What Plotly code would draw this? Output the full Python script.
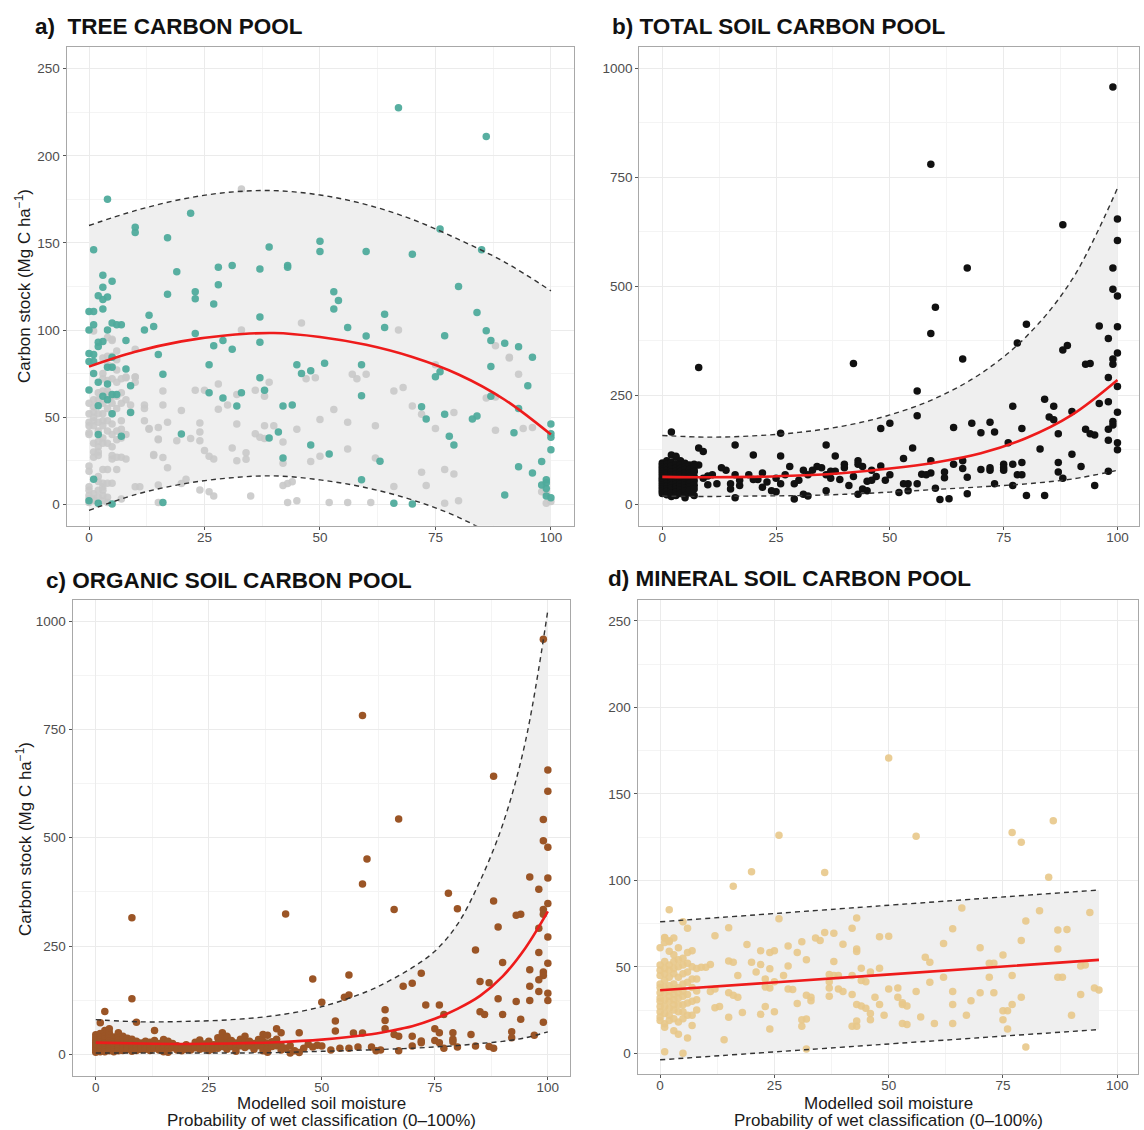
import plotly.graph_objects as go

W, H = 1144, 1130

# ----------------------------- DATA -----------------------------
moist_grid = [0, 10, 20, 30, 40, 50, 60, 70, 80, 90, 100]

# a) tree carbon pool: fit and prediction band
tree_fit = [79, 87.5, 93.5, 97, 98.3, 96, 91.5, 84.5, 74.5, 60, 40]
tree_upper = [160, 168.5, 175, 179, 180, 177.5, 172, 163.5, 152, 139, 122.5]
tree_lower = [-3.5, 5.5, 11.5, 15, 16.3, 14, 9.5, 2.5, -7.5, -22, -42]

tree_wet = [(67, 227.5), (86, 211), (4, 175), (22, 167), (10, 159), (10, 156), (17, 153), (1, 146),
            (50, 151), (50, 145), (60, 145), (76, 158), (85, 146), (39, 147.6), (70, 143.5),
            (19, 133.5), (31, 137), (28, 136), (37, 135), (43, 137), (43, 136), (3, 131.5),
            (5, 128), (28, 126), (80, 125), (3, 124.5), (23, 122), (23, 118), (53, 122),
            (53, 112), (54, 117), (17, 120.6), (2, 119.6), (4, 119), (3, 117.5), (27, 115),
            (3, 112), (13, 108.5), (64, 109), (84, 110), (37, 107.5), (0, 110.6), (1, 110.6),
            (5, 104), (6, 103), (7, 103), (1, 103), (12, 100), (14, 102), (0, 100), (4, 100),
            (23, 98), (86, 99.6), (56, 101.5), (64, 101.5), (60, 96.5), (37, 93), (29, 94),
            (77, 96.7), (87, 94), (90, 92.4), (93, 90.4), (3, 93.4), (2, 90.5), (2, 93),
            (8, 94), (27, 91), (31, 89), (0, 86.5), (1, 86), (15, 86), (5, 84.4), (96, 84.4),
            (0, 82), (1, 82), (26, 80), (45, 80), (59, 80), (51, 81), (87, 79), (4, 78.7),
            (5, 78.7), (8, 77.7), (46, 75), (48, 76.6), (16, 74.6), (1, 75), (37, 72.6),
            (75, 73.2), (76, 76), (9, 68), (95, 68), (2, 70), (4, 69), (0, 65.6), (38, 65.4),
            (26, 64), (33, 64), (87, 62), (5, 63), (6, 63), (59, 62.3), (29, 61), (3, 62),
            (4, 60), (32, 56.4), (72, 56), (2, 56.6), (42, 56.4), (44, 57), (93, 55),
            (9, 52.7), (77, 51.7), (84, 50.7), (83, 49), (73, 49), (5, 52), (100, 46),
            (100, 40.5), (100, 38.5), (41, 41.5), (92, 41), (20, 40.3), (7, 39), (2, 40),
            (78, 39), (39, 38), (48, 34), (79, 34), (100, 31.3), (52, 28.8), (42, 26.6),
            (63, 24.7), (98, 24.5), (93, 21.5), (96, 18), (59, 14), (1, 14.3), (99, 14),
            (99, 12.3), (98, 11), (99, 9), (90, 5.3), (99, 4.7), (100, 3.7), (16, 1),
            (5, 0.2), (0, 2), (2, 0.6), (66, 0.6), (70, 0.2)]

tree_dry = [(33, 181), (46, 104), (67, 100), (33, 100), (4, 95.7), (5, 94.7), (1, 99.5),
            (88, 91), (91, 84.4), (57, 74.6), (58, 72), (75, 80), (49, 72.6), (47, 72),
            (68, 67), (39, 70), (28, 69), (23, 65.4), (25, 65.4), (36, 65.4), (16, 65),
            (66, 65), (38, 62), (32, 63), (8, 72.6), (10, 73), (53, 54.4), (70, 56.4),
            (30, 57), (28, 54.6), (72, 51.7), (79, 52.7), (20, 53.8), (94, 43.5), (75, 43.5),
            (45, 43), (56, 47), (50, 48.7), (62, 45), (88, 42.5), (40, 45), (38, 45),
            (32, 46), (24, 46.6), (24, 41.5), (22, 37.8), (24, 36.4), (36, 40.5), (37, 38.4),
            (38, 37.8), (19, 36.4), (13, 43.5), (15, 44), (15, 37.4), (42, 35.8), (31, 32.3),
            (25, 30.9), (34, 29.6), (27, 26), (26, 27.6), (32, 25), (34, 25.8), (16, 26.8),
            (14, 28.6), (48, 24.5), (42, 23.5), (50, 27.6), (56, 31.7), (62, 26.6), (77, 20),
            (79, 17.4), (72, 18.4), (73, 10.8), (17, 21), (20, 11.9), (21, 14.3), (24, 8.2),
            (26, 7.2), (27, 4.7), (35, 4.7), (42, 10.8), (43, 11.9), (44, 12.9), (43, 1),
            (45, 2), (52, 1), (56, 1), (61, 1), (66, 10.2), (77, 0.6), (80, 2), (98, 7.2),
            (99, 6.3), (100, 1.6), (99, 0.6), (96, 44), (93, 74.6), (86, 61), (88, 61.5),
            (91, 84), (60, 74.6),
            (0, 58), (0, 52), (0, 47), (0, 45), (0, 41), (0, 40), (0, 22), (0, 19), (0, 10),
            (0, 8), (0, 5), (0, 3), (0, 1),
            (1, 60), (1, 56), (1, 53), (1, 50), (1, 48), (1, 45), (1, 35), (1, 30), (1, 27),
            (1, 6), (1, 3), (1, 2),
            (2, 64), (2, 60), (2, 52), (2, 47), (2, 42), (2, 36), (2, 33), (2, 30), (2, 28),
            (2, 16), (2, 13), (2, 8), (2, 4),
            (3, 84), (3, 75), (3, 72), (3, 65), (3, 58), (3, 52), (3, 48), (3, 45), (3, 38),
            (3, 35), (3, 20), (3, 12), (3, 10), (3, 8), (3, 5), (3, 2),
            (4, 85), (4, 80), (4, 71), (4, 65), (4, 63), (4, 55), (4, 48), (4, 42), (4, 35),
            (4, 20), (4, 12), (4, 4), (4, 1),
            (5, 94), (5, 85), (5, 79), (5, 72), (5, 62), (5, 58), (5, 52), (5, 46), (5, 40),
            (5, 33), (5, 28), (5, 26), (5, 12),
            (6, 88), (6, 83), (6, 77), (6, 70), (6, 62), (6, 55), (6, 42), (6, 37), (6, 27),
            (6, 20),
            (7, 72), (7, 64), (7, 58), (7, 48), (7, 43), (7, 38), (7, 27), (7, 3),
            (8, 73), (8, 60), (8, 40), (8, 26), (9, 57), (9, 53), (10, 89), (10, 73), (10, 70),
            (10, 10), (11, 10), (12, 57), (12, 55), (12, 48), (13, 43), (14, 28), (15, 37),
            (15, 11), (15, 1), (16, 57), (17, 47)]

# b) total soil carbon pool
total_fit = [63, 62, 63, 66, 72, 82, 96, 117, 152, 205, 285]
total_upper = [158, 154, 157, 165, 180, 205, 243, 300, 385, 515, 725]
total_lower = [19, 18, 19, 20, 23, 28, 34, 40, 47, 58, 78]

total_soil = [(99, 957), (59, 780), (88, 641), (100, 654), (100, 605), (67, 542), (99, 542),
              (99, 493), (100, 478), (60, 452), (59, 392), (80, 413), (96, 409), (100, 407),
              (78, 370), (98, 380), (89, 364), (88, 354), (66, 333), (99, 333), (99, 321),
              (100, 347), (8, 314), (42, 323), (93, 321), (94, 323), (98, 291), (100, 270),
              (56, 260), (84, 241), (96, 231), (98, 235), (86, 225), (77, 225), (90, 213),
              (100, 211), (56, 203), (85, 200), (86, 194), (99, 190), (99, 182), (68, 186),
              (72, 188), (50, 186), (48, 174), (64, 176), (79, 174), (93, 172), (98, 172),
              (70, 164), (73, 166), (2, 166), (26, 163), (87, 162), (94, 162), (95, 159),
              (98, 147), (36, 136), (16, 136), (100, 141), (8, 129), (9, 121), (55, 129),
              (83, 127), (100, 125), (76, 141), (2, 113), (3, 110), (20, 113), (26, 111),
              (38, 111), (90, 115), (53, 105), (66, 100), (64, 92), (59, 100), (92, 87),
              (87, 96), (98, 76), (87, 74), (88, 60), (95, 43), (80, 20), (84, 20), (61, 11),
              (63, 13), (67, 24.5), (70, 80), (72, 78), (72, 84), (75, 92), (75, 84), (75, 78),
              (77, 92), (78, 68), (79, 96), (79, 68), (77, 43), (73, 47), (67, 62), (66, 82),
              (62, 74), (62, 61), (60, 37), (59, 72), (57, 69), (58, 68), (56, 47), (54, 47),
              (53, 47), (54, 31), (52, 27), (50, 68), (49, 55), (48, 88), (47, 64), (46, 55),
              (45, 53), (46, 78), (44, 87), (43, 100), (43, 92), (44, 35), (45, 31), (43, 23),
              (42, 64), (41, 43), (40, 92), (40, 84), (39, 57), (38, 76), (37, 76), (37, 60),
              (36, 31), (36, 68), (35, 84), (34, 87), (33, 78), (32, 68), (31, 78), (31, 23),
              (32, 19), (29, 12), (30, 55), (29, 47), (28, 87), (27, 68), (26, 47), (25, 60),
              (25, 29), (24, 31), (23, 51), (22, 72), (21, 57), (22, 39), (20, 57), (19, 68),
              (17, 43), (17, 55), (16, 68), (16, 15), (15, 47), (15, 35), (14, 78), (13, 84),
              (12, 47), (11, 68), (10, 65), (9, 60), (10, 45), (8, 90), (7, 76), (7, 20),
              (6, 27), (5, 15),
              (0, 95), (0, 90), (0, 85), (0, 80), (0, 75), (0, 70), (0, 65), (0, 60), (0, 55),
              (0, 50), (0, 45), (0, 40), (0, 35), (0, 30), (0, 25),
              (1, 100), (1, 92), (1, 85), (1, 78), (1, 72), (1, 66), (1, 60), (1, 54), (1, 48),
              (1, 42), (1, 36), (1, 30), (1, 22),
              (2, 96), (2, 88), (2, 80), (2, 74), (2, 68), (2, 62), (2, 56), (2, 50), (2, 44),
              (2, 38), (2, 32), (2, 26), (2, 18),
              (3, 108), (3, 92), (3, 84), (3, 76), (3, 70), (3, 64), (3, 58), (3, 52), (3, 46),
              (3, 40), (3, 34), (3, 28), (3, 20),
              (4, 100), (4, 90), (4, 82), (4, 75), (4, 68), (4, 60), (4, 54), (4, 47), (4, 40),
              (4, 33), (4, 25),
              (5, 94), (5, 86), (5, 80), (5, 72), (5, 65), (5, 58), (5, 50), (5, 44), (5, 37),
              (5, 30), (5, 20),
              (6, 90), (6, 80), (6, 72), (6, 64), (6, 56), (6, 48), (6, 40), (6, 33),
              (7, 92), (7, 85), (7, 75), (7, 64), (7, 54), (7, 44), (7, 35)]

# c) organic soil carbon pool
organic_grid = [0, 10, 20, 30, 40, 50, 60, 65, 70, 75, 80, 85, 90, 95, 100]
organic_fit = [27, 25, 24, 25, 28, 34, 45, 54, 65, 82, 105, 135, 180, 245, 330]
organic_upper = [80, 75, 76, 80, 90, 110, 145, 170, 200, 238, 300, 400, 530, 720, 1025]
organic_lower = [3, 3, 3, 3, 4, 7, 10, 12, 14, 17, 20, 25, 30, 38, 52]

organic_soil = [(99, 958), (59, 782), (88, 642), (100, 656), (100, 607), (67, 543), (99, 542),
                (99, 493), (100, 478), (60, 451), (59, 393), (96, 409), (100, 407), (98, 381),
                (78, 372), (88, 354), (100, 348), (80, 336), (66, 334), (99, 334), (99, 323),
                (93, 321), (94, 323), (42, 324), (8, 315), (89, 294), (98, 291), (100, 271),
                (84, 241), (98, 235), (90, 212), (100, 210), (96, 195), (99, 190), (99, 182),
                (56, 183), (72, 187), (48, 174), (98, 172), (85, 168), (87, 165), (70, 164),
                (68, 157), (96, 157), (98, 145), (100, 141), (56, 137), (55, 132), (8, 128),
                (89, 128), (100, 124), (50, 120), (93, 122), (96, 124), (73, 114), (76, 114),
                (64, 103), (2, 99), (85, 98), (86, 92), (77, 92), (90, 92), (94, 81), (99, 74),
                (9, 74), (1, 73), (53, 77), (64, 78), (40, 59), (41, 50), (75, 59), (76, 50),
                (79, 50), (79, 35), (79, 29), (92, 52), (83, 46), (97, 44), (64, 59), (53, 54),
                (66, 46), (67, 42), (70, 42), (45, 50), (57, 49), (59, 49), (72, 31), (72, 27),
                (75, 32), (76, 27), (88, 14), (87, 18), (80, 17), (77, 14), (84, 19), (92, 38),
                (70, 19), (67, 8), (62, 8), (63, 10), (61, 17), (58, 17), (56, 14), (54, 14),
                (52, 10), (50, 19), (49, 21), (48, 17), (47, 23), (46, 14), (45, 4), (44, 8),
                (43, 3), (42, 14), (41, 21), (40, 35), (39, 29), (2, 55), (3, 59), (5, 50),
                (13, 55), (28, 50), (29, 42), (33, 42), (37, 46), (38, 44),
                (0, 45), (0, 38), (0, 32), (0, 28), (0, 24), (0, 20), (0, 16), (0, 12), (0, 8),
                (0, 5), (1, 48), (1, 40), (1, 34), (1, 29), (1, 25), (1, 21), (1, 17), (1, 13),
                (1, 9), (1, 6), (2, 42), (2, 36), (2, 30), (2, 26), (2, 22), (2, 18), (2, 14),
                (2, 10), (2, 6), (3, 50), (3, 44), (3, 37), (3, 31), (3, 26), (3, 22), (3, 18),
                (3, 13), (3, 8), (4, 40), (4, 34), (4, 29), (4, 24), (4, 20), (4, 15), (4, 10),
                (4, 6), (5, 45), (5, 38), (5, 32), (5, 27), (5, 23), (5, 18), (5, 13), (5, 8),
                (6, 42), (6, 35), (6, 29), (6, 24), (6, 19), (6, 14), (6, 9), (7, 37), (7, 31),
                (7, 26), (7, 21), (7, 16), (7, 11), (8, 35), (8, 28), (8, 22), (8, 17), (8, 12),
                (8, 7), (9, 30), (9, 22), (9, 15), (9, 9), (10, 26), (10, 18), (10, 11),
                (11, 30), (11, 20), (11, 12), (12, 28), (12, 16), (12, 9), (13, 32), (13, 22),
                (13, 14), (14, 25), (14, 17), (14, 10), (15, 34), (15, 24), (15, 14), (15, 6),
                (16, 30), (16, 20), (16, 12), (16, 5), (17, 25), (17, 15), (18, 20), (18, 10),
                (19, 16), (19, 8), (20, 22), (20, 12), (21, 18), (21, 10), (22, 28), (22, 15),
                (23, 33), (23, 20), (23, 12), (24, 24), (24, 14), (25, 30), (25, 18), (25, 9),
                (26, 22), (26, 12), (27, 38), (27, 26), (27, 14), (28, 44), (28, 30), (28, 18),
                (29, 40), (29, 25), (29, 12), (30, 32), (30, 18), (31, 26), (31, 14), (31, 7),
                (32, 35), (32, 20), (33, 28), (33, 16), (34, 30), (34, 20), (35, 25), (35, 12),
                (36, 34), (36, 20), (37, 30), (37, 16), (37, 8), (38, 26), (38, 12), (38, 5),
                (39, 18), (40, 20), (41, 10), (43, 20)]

# d) mineral soil carbon pool
mineral_grid = [0, 48, 96]
mineral_fit = [36.4, 45.2, 54]
mineral_upper = [76, 85.2, 94.4]
mineral_lower = [-3.8, 5, 13.7]

mineral_soil = [(50, 170.7), (86, 134.4), (77, 127.6), (79, 122), (26, 126), (56, 125.5),
                (20, 105), (36, 104.5), (85, 101.8), (16, 96.5), (2, 83), (83, 82.4), (94, 81.4),
                (66, 84), (26, 77.8), (43, 78.2), (5, 76), (80, 76.5), (6, 72.3), (15, 72.5),
                (42, 72.3), (64, 72), (87, 71.3), (89, 71.5), (12, 68), (36, 69.8), (38, 69.4),
                (48, 67.3), (50, 67.7), (34, 66.7), (35, 65.2), (1, 66.7), (2, 64.5), (3, 66.7),
                (79, 65.2), (31, 64.5), (62, 63.5), (19, 62.9), (28, 62), (40, 63), (70, 61),
                (22, 59.3), (24, 58.2), (25, 59.3), (30, 58.2), (7, 59.3), (6, 58.2), (43, 60.3),
                (43, 58.9), (87, 60.3), (75, 56.8), (58, 55.5), (32, 54), (59, 52.6), (15, 53.4),
                (16, 52.6), (20, 52.6), (72, 52), (73, 52), (92, 50.5), (93, 51), (11, 51.3),
                (10, 49.8), (9, 49.8), (22, 51.3), (38, 53), (28, 50.5), (24, 48.8), (44, 49.2),
                (48, 49.2), (21, 47), (46, 47), (17, 45), (27, 45), (37, 45.6), (38, 45),
                (39, 45), (77, 45), (72, 44), (62, 44), (88, 44), (42, 45), (23, 43), (25, 41.4),
                (44, 42), (45, 41.4), (59, 41), (37, 41.4), (95, 37.8), (96, 36.6), (23, 38.3),
                (24, 37.8), (28, 37.2), (29, 36.8), (37, 37.8), (39, 37.2), (40, 35.7),
                (52, 37.8), (50, 37.2), (56, 35.7), (64, 35.7), (70, 35), (73, 35), (15, 35),
                (16, 33.6), (11, 35.7), (12, 37.2), (17, 32.4), (37, 33), (32, 33.6), (33, 32.4),
                (42, 34), (47, 32.4), (52, 32.4), (79, 32.4), (92, 34), (87, 44), (33, 30.3),
                (53, 29.2), (68, 30.3), (30, 28.8), (43, 28.2), (48, 28.2), (53, 28.2),
                (44, 27.3), (45, 26), (64, 28.2), (77, 28.2), (23, 27), (13, 27), (12, 26.3),
                (54, 27.3), (75, 24.6), (76, 24.6), (25, 24), (46, 23), (22, 22.5), (57, 21),
                (67, 22), (90, 22), (49, 22), (54, 16.6), (53, 17.2), (43, 18.7), (43, 15.6),
                (42, 15.6), (46, 19.3), (75, 19.3), (76, 14), (64, 17.2), (60, 17.2),
                (31, 19.3), (31, 15.6), (32, 19.8), (18, 23.5), (15, 20.8), (24, 14), (14, 7.8),
                (6, 8.8), (1, 0.8), (5, 0), (32, 2.5), (80, 3.6),
                (0, 61), (0, 51), (0, 48), (0, 45), (0, 40), (0, 38), (0, 35), (0, 32), (0, 30),
                (0, 27), (0, 24), (0, 21), (0, 19),
                (1, 67), (1, 64), (1, 53), (1, 49), (1, 46), (1, 42), (1, 38), (1, 35), (1, 31),
                (1, 27), (1, 23), (1, 17), (1, 15),
                (2, 65), (2, 59), (2, 51), (2, 48), (2, 44), (2, 39), (2, 36), (2, 33), (2, 30),
                (2, 26), (2, 22), (2, 19),
                (3, 57), (3, 53), (3, 49), (3, 46), (3, 40), (3, 37), (3, 34), (3, 31), (3, 28),
                (3, 25), (3, 20), (3, 13),
                (4, 61), (4, 54), (4, 50), (4, 44), (4, 38), (4, 35), (4, 32), (4, 28), (4, 24),
                (4, 18), (4, 11),
                (5, 55), (5, 51), (5, 46), (5, 40), (5, 36), (5, 33), (5, 28), (5, 24), (5, 20),
                (6, 52), (6, 47), (6, 41), (6, 34), (6, 29), (6, 22),
                (7, 50), (7, 43), (7, 38), (7, 30), (7, 22), (7, 16),
                (8, 49), (8, 43), (8, 36), (8, 31), (8, 25)]

x_ticks = [0, 25, 50, 75, 100]
titles = ["a)  TREE CARBON POOL", "b) TOTAL SOIL CARBON POOL",
          "c) ORGANIC SOIL CARBON POOL", "d) MINERAL SOIL CARBON POOL"]
y_title = "Carbon stock (Mg C ha<sup>\u22121</sup>)"
x_title_1 = "Modelled soil moisture"
x_title_2 = "Probability of wet classification (0\u2013100%)"

# ----------------------------- STYLE -----------------------------
FONT = "Liberation Sans, Arial, sans-serif"
BAND = "#EFEFEF"
RED = "#EE1B1B"
DASH_C = "#333333"

# panel boxes in pixels: (left, right, top, bottom)
boxes = {
    1: (66.7, 574.0, 46.7, 525.7),
    2: (639.3, 1139.3, 47.3, 525.7),
    3: (72.7, 570.0, 600.0, 1076.0),
    4: (637.7, 1138.3, 600.0, 1074.0),
}
xranges = {1: [-4.83, 105.0], 2: [-5.05, 104.8], 3: [-5.1, 104.9], 4: [-4.9, 104.6]}
yranges = {1: [-12.3, 262.6], 2: [-49, 1048], 3: [-50, 1048.5], 4: [-12.0, 262.1]}
ytick_vals = {1: [0, 50, 100, 150, 200, 250], 2: [0, 250, 500, 750, 1000],
              3: [0, 250, 500, 750, 1000], 4: [0, 50, 100, 150, 200, 250]}
ytick_minor = {1: 25, 2: 125, 3: 125, 4: 25}

fig = go.Figure()


def ax(i, kind):
    return kind if i == 1 else f"{kind}{i}"


def add_band(i, gx, lo, hi):
    xa, ya = ax(i, "x"), ax(i, "y")
    fig.add_trace(go.Scatter(x=gx, y=lo, mode="lines", line=dict(width=0, shape="spline"),
                             hoverinfo="skip", showlegend=False, xaxis=xa, yaxis=ya))
    fig.add_trace(go.Scatter(x=gx, y=hi, mode="lines", line=dict(width=0, shape="spline"),
                             fill="tonexty", fillcolor=BAND, hoverinfo="skip",
                             showlegend=False, xaxis=xa, yaxis=ya))


def add_points(i, pts, color, opacity=1.0, size=7.5):
    fig.add_trace(go.Scatter(x=[p[0] for p in pts], y=[p[1] for p in pts], mode="markers",
                             marker=dict(color=color, size=size, opacity=opacity,
                                         line=dict(width=0)),
                             showlegend=False, xaxis=ax(i, "x"), yaxis=ax(i, "y")))


def add_lines(i, gx, lo, hi, fit):
    xa, ya = ax(i, "x"), ax(i, "y")
    for yy in (lo, hi):
        fig.add_trace(go.Scatter(x=gx, y=yy, mode="lines",
                                 line=dict(color=DASH_C, width=1.4, dash="5px,4px",
                                           shape="spline"),
                                 showlegend=False, xaxis=xa, yaxis=ya))
    fig.add_trace(go.Scatter(x=gx, y=fit, mode="lines",
                             line=dict(color=RED, width=2.6, shape="spline"),
                             showlegend=False, xaxis=xa, yaxis=ya))


# a
add_band(1, moist_grid, tree_lower, tree_upper)
add_points(1, tree_dry, "#C9C9C9", 0.9)
add_points(1, tree_wet, "#4FAB9C", 0.95)
add_lines(1, moist_grid, tree_lower, tree_upper, tree_fit)
# b
add_band(2, moist_grid, total_lower, total_upper)
add_points(2, total_soil, "#111111", 1.0)
add_lines(2, moist_grid, total_lower, total_upper, total_fit)
# c
add_band(3, organic_grid, organic_lower, organic_upper)
add_points(3, organic_soil, "#9B5526", 1.0)
add_lines(3, organic_grid, organic_lower, organic_upper, organic_fit)
# d
add_band(4, mineral_grid, mineral_lower, mineral_upper)
add_points(4, mineral_soil, "#E8C88A", 0.9)
add_lines(4, mineral_grid, mineral_lower, mineral_upper, mineral_fit)

layout = dict(width=W, height=H, margin=dict(l=0, r=0, t=0, b=0),
              paper_bgcolor="white", plot_bgcolor="white", showlegend=False,
              font=dict(family=FONT, color="#1A1A1A"))

for i, (l, r, t, b) in boxes.items():
    common = dict(showline=True, mirror=True, linecolor="#A8A8A8", linewidth=1.3,
                  showgrid=True, gridcolor="#EBEBEB", gridwidth=1, zeroline=False,
                  ticks="outside", ticklen=3, tickwidth=1, tickcolor="#555555",
                  tickfont=dict(family=FONT, size=13.5, color="#4D4D4D"))
    layout[ax(i, "xaxis")] = dict(common, domain=[l / W, r / W], range=xranges[i],
                                  anchor=ax(i, "y"), tickvals=x_ticks, ticklabelstandoff=-4,
                                  minor=dict(tick0=0, dtick=12.5, showgrid=True,
                                             gridcolor="#F4F4F4", gridwidth=0.8))
    layout[ax(i, "yaxis")] = dict(common, domain=[1 - b / H, 1 - t / H], range=yranges[i],
                                  anchor=ax(i, "x"), tickvals=ytick_vals[i],
                                  minor=dict(tick0=0, dtick=ytick_minor[i], showgrid=True,
                                             gridcolor="#F4F4F4", gridwidth=0.8))

annotations = []
title_pos = [(33, 26), (610, 26), (43.5, 580), (605.5, 578)]
for txt, (px, py) in zip(titles, title_pos):
    annotations.append(dict(text=f"<b>{txt}</b>", xref="paper", yref="paper", x=px / W,
                            y=1 - py / H, xanchor="left", yanchor="middle", showarrow=False,
                            font=dict(family=FONT, size=22.5, color="#111111")))
# y-axis titles (left column)
for (px, cy) in [(23, 286), (24, 839)]:
    annotations.append(dict(text=y_title, xref="paper", yref="paper", x=px / W, y=1 - cy / H,
                            xanchor="center", yanchor="middle", textangle=-90,
                            showarrow=False, font=dict(family=FONT, size=17, color="#1A1A1A")))
# x-axis titles (bottom row)
for (l, r) in [(72.7, 570.0), (637.7, 1138.3)]:
    cx = (l + r) / 2
    annotations.append(dict(text=x_title_1, xref="paper", yref="paper", x=cx / W,
                            y=1 - 1103.5 / H, xanchor="center", yanchor="middle",
                            showarrow=False, font=dict(family=FONT, size=17, color="#1A1A1A")))
    annotations.append(dict(text=x_title_2, xref="paper", yref="paper", x=cx / W,
                            y=1 - 1120.5 / H, xanchor="center", yanchor="middle",
                            showarrow=False, font=dict(family=FONT, size=17, color="#1A1A1A")))
layout["annotations"] = annotations

fig.update_layout(**layout)
fig.write_html("out.html")
